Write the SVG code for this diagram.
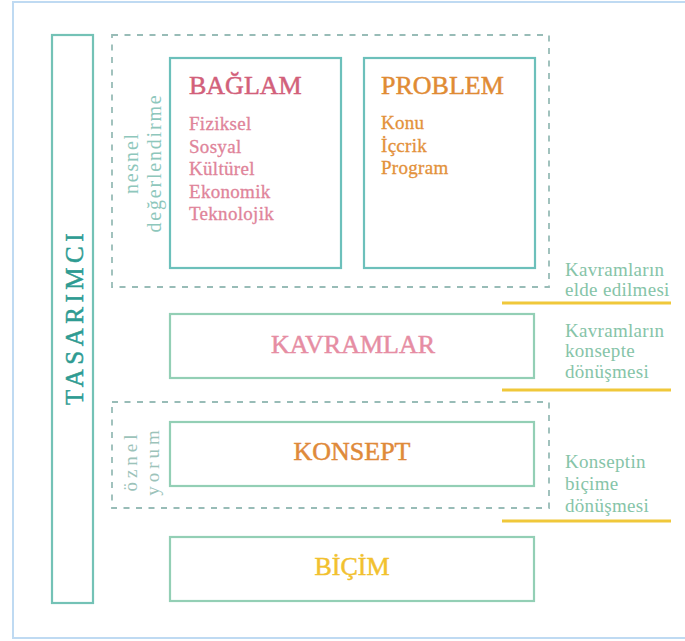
<svg xmlns="http://www.w3.org/2000/svg" width="685" height="641" viewBox="0 0 685 641">
  <style>
    text { font-family: "Liberation Serif", "Times New Roman", serif; }
    .frame { fill: none; stroke: #bfdaf2; stroke-width: 2; }
    .box-top { fill: #ffffff; stroke: #6cc0bb; stroke-width: 2.2; }
    .box-low { fill: #ffffff; stroke: #93cfb5; stroke-width: 2.2; }
    .box-side { fill: #ffffff; stroke: #74c2b6; stroke-width: 2.2; }
    .dash { fill: none; stroke: #98bcb7; stroke-width: 1.8; stroke-dasharray: 6 6.5; }
    .rule { stroke: #f0c83a; stroke-width: 3; }
    .title { font-size: 26px; stroke-width: 0.5px; }
    .item { font-size: 19px; letter-spacing: 0.3px; stroke-width: 0.3px; }
    .side-note { font-size: 19px; letter-spacing: 0.3px; fill: #86c4a8; }
    .vert { font-size: 20px; letter-spacing: 1.8px; fill: #8ec7bc; text-anchor: middle; }
    .vert2 { font-size: 19px; letter-spacing: 4px; fill: #9cc3ba; text-anchor: middle; }
    .mid { text-anchor: middle; }
  </style>

  <!-- page frame -->
  <rect class="frame" x="13" y="2" width="690" height="636"/>

  <!-- designer column -->
  <g id="tasarimci">
    <rect class="box-side" x="52" y="35" width="41" height="568"/>
    <text class="mid" transform="translate(83,317) rotate(-90)" font-size="25" letter-spacing="4.5" fill="#2e9b92" stroke="#2e9b92" stroke-width="0.5">TASARIMCI</text>
  </g>

  <!-- grouping frames and stage markers -->
  <g id="connectors">
    <rect class="dash" x="112" y="35" width="437" height="252"/>
    <rect class="dash" x="112" y="402" width="437" height="106"/>
    <line class="rule" x1="502" y1="303" x2="671" y2="303"/>
    <line class="rule" x1="502" y1="390" x2="671" y2="390"/>
    <line class="rule" x1="502" y1="521" x2="671" y2="521"/>
  </g>

  <g id="nesnel-degerlendirme">
    <text class="vert" transform="translate(138,163) rotate(-90)">nesnel</text>
    <text class="vert" transform="translate(161,163) rotate(-90)">değerlendirme</text>
  </g>

  <g id="oznel-yorum">
    <text class="vert2" transform="translate(137,461) rotate(-90)">öznel</text>
    <text class="vert2" transform="translate(159,461) rotate(-90)">yorum</text>
  </g>

  <g id="baglam">
    <rect class="box-top" x="170" y="58" width="171" height="210"/>
    <text class="title" x="189" y="94" fill="#d2607a" stroke="#d2607a">BAĞLAM</text>
    <g class="item" fill="#e0849a" stroke="#e0849a">
      <text x="189" y="130">Fiziksel</text>
      <text x="189" y="153">Sosyal</text>
      <text x="189" y="175">Kültürel</text>
      <text x="189" y="198">Ekonomik</text>
      <text x="189" y="220">Teknolojik</text>
    </g>
  </g>

  <g id="problem">
    <rect class="box-top" x="364" y="58" width="171" height="210"/>
    <text class="title" x="381" y="94" fill="#e08b34" stroke="#e08b34">PROBLEM</text>
    <g class="item" fill="#e3913a" stroke="#e3913a">
      <text x="381" y="129">Konu</text>
      <text x="381" y="152">İçcrik</text>
      <text x="381" y="174">Program</text>
    </g>
  </g>

  <g id="kavramlar">
    <rect class="box-low" x="170" y="314" width="364" height="64"/>
    <text class="title mid" x="353" y="353" fill="#e68da3" stroke="#e68da3">KAVRAMLAR</text>
  </g>

  <g id="konsept">
    <rect class="box-low" x="170" y="422" width="364" height="64"/>
    <text class="title mid" x="352" y="460" fill="#df8a3a" stroke="#df8a3a">KONSEPT</text>
  </g>

  <g id="bicim">
    <rect class="box-low" x="170" y="537" width="364" height="64"/>
    <text class="title mid" x="352" y="575" fill="#f2c12e" stroke="#f2c12e">BİÇİM</text>
  </g>

  <g id="kavramlarin-elde-edilmesi">
    <text class="side-note" x="565" y="276">Kavramların</text>
    <text class="side-note" x="565" y="296">elde edilmesi</text>
  </g>

  <g id="kavramlarin-konsepte-donusmesi">
    <text class="side-note" x="565" y="337">Kavramların</text>
    <text class="side-note" x="565" y="357">konsepte</text>
    <text class="side-note" x="565" y="378">dönüşmesi</text>
  </g>

  <g id="konseptin-bicime-donusmesi">
    <text class="side-note" x="565" y="468">Konseptin</text>
    <text class="side-note" x="565" y="490">biçime</text>
    <text class="side-note" x="565" y="512">dönüşmesi</text>
  </g>
</svg>
